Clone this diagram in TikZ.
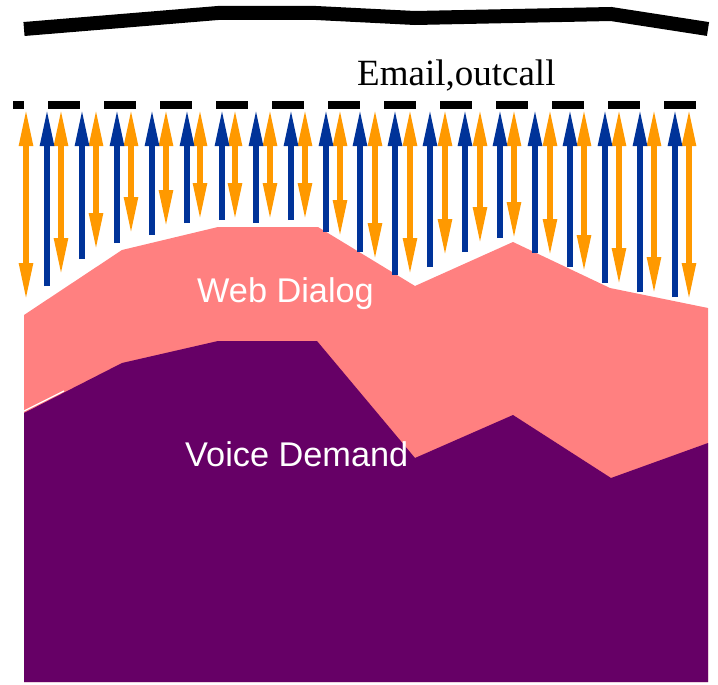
\documentclass[tikz,border=0pt]{standalone}
\usepackage{fontspec}
\setmainfont{Liberation Serif}
\newfontfamily\arialfont{Liberation Sans}
\usetikzlibrary{arrows.meta}
\definecolor{orangeA}{HTML}{FF9900}
\definecolor{blueA}{HTML}{003399}
\definecolor{pinkA}{HTML}{FF8080}
\definecolor{purpleA}{HTML}{660066}
\tikzset{
  tipA/.tip={Triangle[length=40pt,width=12.5pt]},
  uparrow/.style={draw=blueA,line width=6.5pt,-{tipA}},
  duparrow/.style={draw=orangeA,line width=6.5pt,{tipA}-{tipA}},
  wlabel/.style={anchor=base west,inner sep=0pt,text=white,font=\arialfont\fontsize{34.3}{40}\selectfont},
}
\begin{document}
\begin{tikzpicture}[x=1pt,y=-1pt]
\useasboundingbox (0,0) rectangle (718,685);
% top thick line
\draw[line width=14pt,line cap=butt,line join=miter] (24,29) -- (218,13) -- (316,13) -- (415,18) -- (611,14) -- (708,29);
% pink area
\fill[pinkA] (24,315) -- (122,250) -- (218,227) -- (318,227) -- (415,286) -- (513,242) -- (610,288) -- (708,308) -- (708,682) -- (24,682) -- cycle;
% purple area
\fill[purpleA] (24,413) -- (122,363) -- (218,341) -- (317,341) -- (415,458) -- (513,415) -- (611,478) -- (708,443) -- (708,682) -- (24,682) -- cycle;
\draw[white,line width=1.2pt] (24,411) -- (64,391);
% orange double arrows
\foreach \x/\b in {26/303,61/278,96/253,131/237,166/230,200/223,235/223,270/223,305/223,340/240,375/263,410/278,445/259,480/247,514/242,550/259,584/275,619/288,654/297,689/303}
  \draw[duparrow] (\x,\b) -- (\x,106);
% blue up arrows
\foreach \x/\b in {47/286,82/259,117/243,152/235,187/223,222/220,256/223,291/220,326/232,360/252,395/275,430/267,465/252,500/238,535/253,570/267,605/283,640/292,675/297}
  \draw[uparrow] (\x,\b) -- (\x,106);
% black dashed line
\draw[line width=7.5pt,line cap=butt,dash pattern=on 32pt off 24pt,dash phase=21pt] (13,105) -- (696,105);
% labels
\node[anchor=base west,inner sep=0pt,font=\fontsize{37}{44}\selectfont] (email) at (357,85) {Email,outcall};
\node[wlabel] (web) at (197,302) {Web Dialog};
\node[wlabel] (voice) at (185,466) {Voice Demand};
\end{tikzpicture}
\end{document}
